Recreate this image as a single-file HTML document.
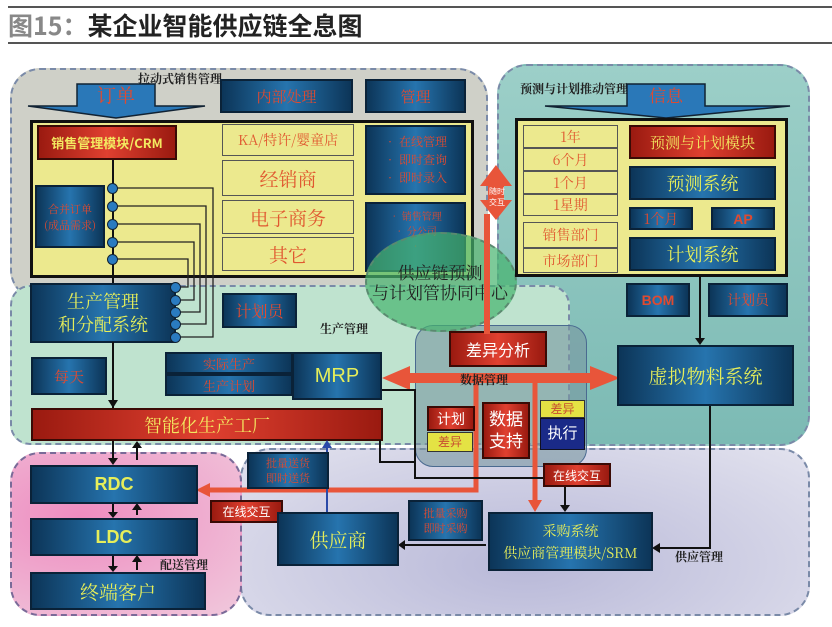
<!DOCTYPE html>
<html><head><meta charset="utf-8"><style>
body{margin:0;width:832px;height:627px;background:#fff;position:relative;overflow:hidden;font-family:"Liberation Sans","Noto Sans CJK SC",sans-serif}
div{position:absolute;box-sizing:border-box}
.b{background:linear-gradient(90deg,#0c3558,#2674ae 50%,#0c3558);border:2px solid #0a2238;color:#e6ee5a;display:flex;align-items:center;justify-content:center;text-align:center;font-family:"Noto Serif CJK SC","Noto Sans CJK SC",serif}
.r{background:linear-gradient(90deg,#9a1a10,#e04030 50%,#9a1a10);border:2px solid #3a0a05;color:#f3e860;display:flex;align-items:center;justify-content:center;text-align:center}
.rt{color:#e04a30}
.y{background:#ece98e;border:1.5px solid #555;color:#e05830;display:flex;align-items:center;justify-content:center;font-family:"Noto Serif CJK SC",serif}
.rg{border:2px dashed #7a8aa8;border-radius:30px}
.lb{font-family:"Noto Serif CJK SC",serif;font-size:12px;color:#222;font-weight:bold}
.dot{width:11px;height:11px;border-radius:50%;background:#2a7bc0;border:1px solid #123}
.vl{background:#111;width:2px}.hl{background:#111;height:2px}
</style></head><body>
<div style="left:8px;top:6px;width:824px;height:2px;background:#555"></div>
<div style="left:8px;top:9px;font-size:25px;font-weight:bold;line-height:32px;font-family:'Noto Sans CJK SC',sans-serif"><span style="color:#888">图15：</span><span style="color:#222">某企业智能供应链全息图</span></div>
<div style="left:8px;top:42px;width:824px;height:2px;background:#555"></div>

<!-- regions -->
<div class="rg" style="left:10px;top:68px;width:478px;height:232px;background:#cfd0c8"></div>
<div class="rg" style="left:497px;top:64px;width:313px;height:382px;background:linear-gradient(180deg,#9ccfc8,#7cbab4)"></div>
<div class="rg" style="left:10px;top:285px;width:560px;height:160px;background:#bfe3cf;border-radius:20px"></div>
<div class="rg" style="left:240px;top:448px;width:570px;height:168px;background:radial-gradient(ellipse at 50% 70%,#b8b8d8,#e2e2ee)"></div>
<div class="rg" style="left:10px;top:452px;width:232px;height:164px;background:radial-gradient(ellipse at 30% 40%,#ee8cc0,#f0c8dc);border-color:#7a6a98"></div>
<div style="left:415px;top:325px;width:172px;height:142px;border-radius:18px;background:rgba(120,150,160,.6);border:1px solid #4a6a90"></div>

<div class="lb" style="left:138px;top:70px">拉动式销售管理</div>
<div class="lb" style="left:520px;top:80px">预测与计划推动管理</div>
<div class="lb" style="left:320px;top:320px">生产管理</div>
<div class="lb" style="left:160px;top:556px">配送管理</div>
<div class="lb" style="left:675px;top:548px">供应管理</div>

<!-- order arrow -->
<svg style="position:absolute;left:0;top:0" width="832" height="627">
<polygon points="77,84 155,84 155,106 205,106 116,118 28,106 77,106" fill="#2a78b8" stroke="#123" stroke-width="1.5"/>
<polygon points="627,84 705,84 705,106 790,106 666,118 545,106 627,106" fill="#2a78b8" stroke="#123" stroke-width="1.5"/>
</svg>
<div class="rt" style="left:77px;top:84px;width:78px;height:22px;text-align:center;font-size:19px;line-height:22px;font-family:'Noto Serif CJK SC',serif">订单</div>
<div class="rt" style="left:627px;top:84px;width:78px;height:22px;text-align:center;font-size:17px;line-height:22px;font-family:'Noto Serif CJK SC',serif">信息</div>

<div class="b rt" style="left:220px;top:79px;width:133px;height:34px;font-size:15px;color:#e04a30">内部处理</div>
<div class="b" style="left:365px;top:79px;width:101px;height:34px;font-size:15px;color:#e04a30">管理</div>

<div style="left:30px;top:120px;width:444px;height:158px;background:#ece98e;border:3px solid #111"></div>
<div class="r" style="left:37px;top:125px;width:140px;height:35px;font-size:13px;font-weight:bold;font-family:'Noto Sans CJK SC',sans-serif">销售管理模块/CRM</div>
<div class="b" style="left:35px;top:185px;width:70px;height:63px;font-size:11px;color:#e04a30">合并订单<br>(成品需求)</div>
<div class="y" style="left:222px;top:124px;width:132px;height:32px;font-size:14px">KA/特许/婴童店</div>
<div class="y" style="left:222px;top:160px;width:132px;height:36px;font-size:19px">经销商</div>
<div class="y" style="left:222px;top:200px;width:132px;height:34px;font-size:19px">电子商务</div>
<div class="y" style="left:222px;top:237px;width:132px;height:34px;font-size:19px">其它</div>
<div class="b" style="left:365px;top:125px;width:101px;height:70px;font-size:12px;color:#e04a30;line-height:18px;text-align:left">• 在线管理<br>• 即时查询<br>• 即时录入</div>
<div class="b" style="left:365px;top:202px;width:101px;height:70px;font-size:10px;color:#e04a30;line-height:15px;align-items:flex-start;padding-top:4px">• 销售管理<br>• 分公司<br>• </div>

<!-- ellipse on top -->
<div style="left:365px;top:232px;width:152px;height:100px;border-radius:50%;background:rgba(70,180,110,.7);border:2px dashed #5a8a70"></div>
<div style="left:360px;top:262px;width:160px;text-align:center;font-size:17px;line-height:20px;color:#222;font-family:'Noto Serif CJK SC',serif">供应链预测<br>与计划管协同中心</div>

<!-- connectors sales -->
<div class="vl" style="left:112px;top:160px;height:250px"></div>
<svg style="position:absolute;left:0;top:0" width="832" height="627" fill="none" stroke="#222" stroke-width="1.3">
<path d="M113,188 H213 V337 H180 M113,206 H206 V324 H180 M113,224 H200 V312 H180 M113,242 H194 V300 H180 M113,259 H188 V287 H180"/>
</svg>
<div class="dot" style="left:107px;top:183px"></div><div class="dot" style="left:107px;top:201px"></div><div class="dot" style="left:107px;top:219px"></div><div class="dot" style="left:107px;top:237px"></div><div class="dot" style="left:107px;top:254px"></div>

<div class="b" style="left:30px;top:283px;width:146px;height:60px;font-size:18px;line-height:23px">生产管理<br>和分配系统</div>
<div class="dot" style="left:170px;top:282px"></div><div class="dot" style="left:170px;top:295px"></div><div class="dot" style="left:170px;top:307px"></div><div class="dot" style="left:170px;top:319px"></div><div class="dot" style="left:170px;top:332px"></div>
<div class="b" style="left:222px;top:293px;width:75px;height:35px;font-size:16px;color:#e04a30">计划员</div>
<div class="b" style="left:31px;top:357px;width:76px;height:38px;font-size:15px;color:#e04a30">每天</div>
<div class="b" style="left:165px;top:352px;width:128px;height:22px;font-size:13px;color:#e04a30">实际生产</div>
<div class="b" style="left:165px;top:374px;width:128px;height:22px;font-size:13px;color:#e04a30">生产计划</div>
<div class="b" style="left:292px;top:352px;width:90px;height:48px;font-size:20px;font-family:'Liberation Sans',sans-serif">MRP</div>
<div class="r" style="left:31px;top:408px;width:352px;height:33px;font-size:18px;font-family:'Noto Serif CJK SC',serif">智能化生产工厂</div>

<!-- data mgmt -->
<div class="r" style="left:449px;top:331px;width:98px;height:36px;font-size:16px;color:#fff">差异分析</div>
<svg style="position:absolute;left:0;top:0" width="832" height="627">
<polygon points="382,378 410,366 410,373 590,373 590,366 620,378 590,390 590,383 410,383 410,390" fill="#e8553a"/>
<polygon points="496,165 512,186 504,186 504,200 512,200 496,220 480,200 488,200 488,186 480,186" fill="#e8553a"/>
<rect x="484" y="214" width="6" height="120" fill="#e8553a"/>
<path d="M476,378 V490 H208" stroke="#e8553a" stroke-width="5" fill="none"/>
<polygon points="196,490 210,483 210,497" fill="#e8553a"/>
<path d="M535,378 V502" stroke="#e8553a" stroke-width="5" fill="none"/>
<polygon points="528,500 542,500 535,512" fill="#e8553a"/>
<g stroke="#111" stroke-width="2" fill="none">
<path d="M382,390 H415 V478 H565 V505"/>
<path d="M380,440 V462 H415"/>
<path d="M700,199 V338"/><path d="M710,405 V548 H660"/>
<path d="M486,545 H405"/>
<path d="M113,342 V400"/>
<path d="M113,441 V458"/><path d="M137,460 V443"/>
<path d="M113,503 V512"/><path d="M137,515 V505"/>
<path d="M113,555 V566"/><path d="M137,570 V557"/>
</g>
<g fill="#111">
<polygon points="695,338 705,338 700,345"/><polygon points="560,505 570,505 565,512"/>
<polygon points="660,543 660,553 652,548"/><polygon points="405,540 405,550 398,545"/>
<polygon points="108,400 118,400 113,408"/>
<polygon points="108,458 118,458 113,465"/><polygon points="132,448 142,448 137,441"/>
<polygon points="108,512 118,512 113,518"/><polygon points="132,510 142,510 137,503"/>
<polygon points="108,566 118,566 113,572"/><polygon points="132,562 142,562 137,555"/>
</g>
<path d="M327,512 V446" stroke="#2a4aa8" stroke-width="2"/><polygon points="322,448 332,448 327,440" fill="#2a4aa8"/>
</svg>
<div style="left:484px;top:186px;width:26px;font-size:8px;color:#fff;text-align:center;line-height:11px">随时<br>交互</div>
<div class="lb" style="left:460px;top:371px">数据管理</div>
<div class="r" style="left:427px;top:406px;width:48px;height:25px;font-size:14px;color:#fff">计划</div>
<div style="left:427px;top:432px;width:46px;height:20px;background:#e4e244;border:1px solid #333;color:#c85030;font-size:12px;text-align:center;line-height:18px">差异</div>
<div class="r" style="left:482px;top:402px;width:48px;height:57px;font-size:17px;color:#fff;line-height:22px">数据<br>支持</div>
<div style="left:540px;top:400px;width:45px;height:18px;background:#e4e244;border:1px solid #333;color:#c85030;font-size:12px;text-align:center;line-height:16px">差异</div>
<div style="left:540px;top:418px;width:45px;height:32px;background:#1a2a88;border:1px solid #112;color:#fff;font-size:15px;text-align:center;line-height:30px">执行</div>
<div class="r" style="left:543px;top:463px;width:68px;height:24px;font-size:12px;color:#fff">在线交互</div>

<!-- right region -->
<div style="left:515px;top:118px;width:273px;height:159px;background:#ece98e;border:3px solid #111"></div>
<div class="y" style="left:523px;top:125px;width:95px;height:23px;font-size:14px">1年</div>
<div class="y" style="left:523px;top:148px;width:95px;height:23px;font-size:14px">6个月</div>
<div class="y" style="left:523px;top:171px;width:95px;height:23px;font-size:14px">1个月</div>
<div class="y" style="left:523px;top:194px;width:95px;height:22px;font-size:14px">1星期</div>
<div class="y" style="left:523px;top:222px;width:95px;height:26px;font-size:14px">销售部门</div>
<div class="y" style="left:523px;top:248px;width:95px;height:25px;font-size:14px">市场部门</div>
<div class="r" style="left:629px;top:125px;width:147px;height:34px;font-size:15px;font-family:'Noto Serif CJK SC',serif">预测与计划模块</div>
<div class="b" style="left:629px;top:166px;width:147px;height:34px;font-size:18px">预测系统</div>
<div class="b" style="left:629px;top:207px;width:64px;height:23px;font-size:14px;color:#e04a30">1个月</div>
<div class="b" style="left:711px;top:207px;width:64px;height:23px;font-size:14px;color:#e04a30;font-weight:bold;font-family:'Liberation Sans'">AP</div>
<div class="b" style="left:629px;top:237px;width:147px;height:34px;font-size:18px">计划系统</div>
<div class="b" style="left:626px;top:283px;width:64px;height:34px;font-size:14px;color:#e04a30;font-weight:bold;font-family:'Liberation Sans'">BOM</div>
<div class="b" style="left:708px;top:283px;width:80px;height:34px;font-size:14px;color:#e04a30">计划员</div>
<div class="b" style="left:617px;top:345px;width:177px;height:61px;font-size:19px">虚拟物料系统</div>

<!-- bottom -->
<div class="b" style="left:30px;top:465px;width:168px;height:39px;font-size:18px;font-weight:bold;font-family:'Liberation Sans'">RDC</div>
<div class="b" style="left:30px;top:518px;width:168px;height:38px;font-size:18px;font-weight:bold;font-family:'Liberation Sans'">LDC</div>
<div class="b" style="left:30px;top:572px;width:176px;height:38px;font-size:19px">终端客户</div>
<div class="b" style="left:247px;top:452px;width:82px;height:37px;font-size:11px;color:#e04a30;line-height:15px">批量送货<br>即时送货</div>
<div class="r" style="left:210px;top:500px;width:73px;height:23px;font-size:12px;color:#fff">在线交互</div>
<div class="b" style="left:277px;top:512px;width:122px;height:54px;font-size:19px">供应商</div>
<div class="b" style="left:408px;top:500px;width:75px;height:41px;font-size:11px;color:#e04a30;line-height:15px">批量采购<br>即时采购</div>
<div class="b" style="left:488px;top:512px;width:165px;height:59px;font-size:14px;line-height:22px">采购系统<br>供应商管理模块/SRM</div>
</body></html>
